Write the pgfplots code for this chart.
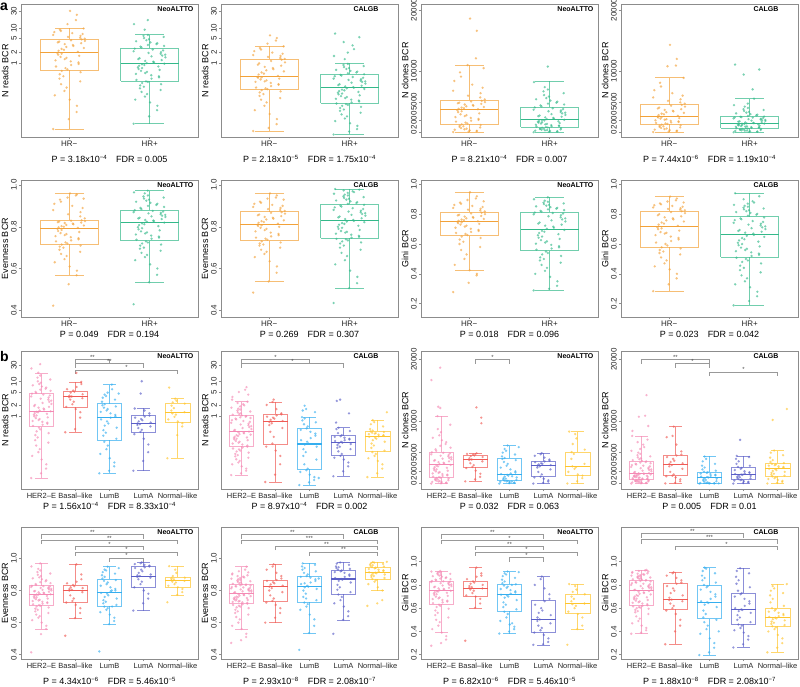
\documentclass[border=0pt]{standalone}
\usepackage{fontspec}
\setmainfont{Liberation Sans}
\usepackage{pgfplots}
\pgfplotsset{compat=1.18}
\definecolor{frm}{HTML}{8C8C8C}
\definecolor{hrn}{HTML}{F2A23A}
\definecolor{hrp}{HTML}{34B98A}
\definecolor{her}{HTML}{F48AB4}
\definecolor{bas}{HTML}{EF5B55}
\definecolor{lmb}{HTML}{35AEEF}
\definecolor{lma}{HTML}{5B5FC7}
\definecolor{nrm}{HTML}{FFC52E}
\newcommand{\sci}[2]{#1x10\textsuperscript{−#2}}
% box: pos, lower whisker, lower quartile, median, upper quartile, upper whisker, colour
\newcommand{\bx}[7]{%
  \pgfmathsetmacro\bL{#1-0.36}\pgfmathsetmacro\bR{#1+0.36}%
  \pgfmathsetmacro\cL{#1-0.18}\pgfmathsetmacro\cR{#1+0.18}%
  \addplot[#7, line width=0.6pt, draw opacity=0.7] coordinates {(\bL,#3) (\bR,#3) (\bR,#5) (\bL,#5) (\bL,#3)};
  \addplot[#7, line width=0.6pt, draw opacity=0.7] coordinates {(#1,#5) (#1,#6)};
  \addplot[#7, line width=0.6pt, draw opacity=0.7] coordinates {(#1,#3) (#1,#2)};
  \addplot[#7, line width=0.6pt, draw opacity=0.7] coordinates {(\cL,#6) (\cR,#6)};
  \addplot[#7, line width=0.6pt, draw opacity=0.7] coordinates {(\cL,#2) (\cR,#2)};
  \addplot[#7, line width=1.1pt] coordinates {(\bL,#4) (\bR,#4)};
}
% jittered points: pos, half width, colour, values
\newcommand{\pts}[4]{\addplot[only marks, mark=*, mark size=1.3pt, color=#3, mark options={draw opacity=0, fill opacity=0.65}] table[header=false, row sep=\\, x expr={#1+#2*(2*mod(\coordindex*\coordindex*0.381966+\coordindex*0.1,1)-1)}, y index=0] {#4\\};}
% bracket: a, b, mid, y, y low, label
\newcommand{\brk}[6]{%
  \addplot[black!40, line width=0.5pt] coordinates {(#1,#5) (#1,#4) (#2,#4) (#2,#5)};
  \node[font=\fontsize{6}{6}\selectfont, anchor=base, inner sep=0.5pt, text=black!70] at (axis cs:#3,#4) {#6};}
\tikzset{ptag/.style={anchor=west, font=\bfseries\fontsize{7}{8}\selectfont, inner sep=0pt, yshift=-5.5pt}}
\pgfplotsset{
  myBase/.style={scale only axis, width=177pt, anchor=north west, clip=false,
    axis line style={frm, line width=0.7pt},
    tick style={frm, line width=0.5pt}, tick align=outside, major tick length=2pt, tick pos=left,
    ticklabel style={font=\fontsize{8}{9}\selectfont, text=black!85},
    xticklabel style={anchor=north, inner sep=2pt},
    yticklabel style={rotate=90, anchor=south, inner sep=2pt},
    scaled y ticks=false,
    /pgf/number format/assume math mode=true,
    every axis y label/.style={at={(axis description cs:-0.09,0.5)}, rotate=90, anchor=center, font=\fontsize{9}{10}\selectfont},
    every axis x label/.style={at={(axis description cs:0.5,0)}, anchor=center, font=\fontsize{9}{10}\selectfont},
  },
  myTwo/.style={myBase, xmin=0.4, xmax=2.6, xtick={1,2}, xticklabels={HR−,HR+}},
  myFive/.style={myBase, xmin=0.4, xmax=5.6, xtick={1,2,3,4,5}, xticklabels={HER2–E,Basal–like,LumB,LumA,Normal–like},
    xticklabel style={font=\fontsize{7.5}{9}\selectfont}},
  myReads/.style={ytick={1,2,5,10,30}, yticklabels={1,2,5,10,30}, ylabel={N reads BCR}},
  myClones/.style={ytick={0,2000,5000,10000,20000}, yticklabels={0,2000,5000,10000,20000}, ylabel={N clones BCR}},
  myEven/.style={ytick={0.4,0.6,0.8,1.0}, yticklabels={0.4,0.6,0.8,1.0}, ylabel={Evenness BCR}},
  myGini/.style={ytick={0.2,0.4,0.6,0.8,1.0}, yticklabels={0.2,0.4,0.6,0.8,1.0}, ylabel={Gini BCR}},
}
\begin{document}
\begin{tikzpicture}
\useasboundingbox (0pt,0pt) rectangle (800pt,686pt);
\node[anchor=base west, inner sep=0pt, font=\bfseries\fontsize{14}{14}\selectfont] at (0pt,675pt) {a};
\node[anchor=base west, inner sep=0pt, font=\bfseries\fontsize{14}{14}\selectfont] at (0pt,324pt) {b};

% ================= ROW 1 =================
\begin{axis}[ymode=log, myTwo, myReads, at={(21pt,682pt)}, height=133pt, ymin=0.0077, ymax=49,
  xlabel={P = \sci{3.18}{4}\quad FDR = 0.005}, xlabel style={yshift=-22pt}]
\bx{1}{0.013}{0.63}{2.02}{4.85}{10}{hrn}
\bx{2}{0.0185}{0.31}{0.98}{2.7}{6.45}{hrp}
\pts{1}{0.2}{hrn}{0.013\\0.025\\0.04\\0.06\\0.09\\0.12\\0.16\\0.2\\0.25\\0.3\\0.36\\0.42\\0.48\\0.55\\0.6\\0.66\\0.72\\0.8\\0.88\\0.95\\1.05\\1.12\\1.2\\1.3\\1.4\\1.5\\1.62\\1.75\\1.85\\1.95\\2.1\\2.25\\2.4\\2.55\\2.7\\2.9\\3.1\\3.3\\3.5\\3.7\\3.9\\4.1\\4.3\\4.5\\4.75\\5\\5.3\\5.6\\6\\6.4\\6.8\\7.2\\7.7\\8.3\\9\\9.8\\13\\17\\24\\31}
\pts{2}{0.2}{hrp}{0.0185\\0.03\\0.045\\0.06\\0.075\\0.09\\0.11\\0.13\\0.15\\0.17\\0.19\\0.21\\0.23\\0.25\\0.27\\0.29\\0.3\\0.33\\0.36\\0.39\\0.42\\0.45\\0.49\\0.52\\0.56\\0.6\\0.64\\0.68\\0.72\\0.76\\0.8\\0.84\\0.88\\0.92\\0.96\\1\\1.05\\1.1\\1.15\\1.22\\1.3\\1.38\\1.46\\1.55\\1.64\\1.74\\1.84\\1.95\\2.06\\2.18\\2.3\\2.45\\2.6\\2.8\\2.95\\3.1\\3.3\\3.5\\3.7\\3.9\\4.2\\4.5\\4.8\\5.2\\5.6\\6\\6.4\\9\\13\\17}
\node[ptag] at (rel axis cs:0.77,1) {NeoALTTO};
\end{axis}

\begin{axis}[ymode=log, myTwo, myReads, at={(221pt,682pt)}, height=133pt, ymin=0.0077, ymax=49,
  xlabel={P = \sci{2.18}{5}\quad FDR = \sci{1.75}{4}}, xlabel style={yshift=-22pt}]
\bx{1}{0.0114}{0.174}{0.41}{1.28}{3.1}{hrn}
\bx{2}{0.0091}{0.072}{0.2}{0.49}{1}{hrp}
\pts{1}{0.2}{hrn}{0.0114\\0.014\\0.018\\0.025\\0.035\\0.045\\0.06\\0.075\\0.09\\0.1\\0.115\\0.13\\0.145\\0.155\\0.168\\0.18\\0.19\\0.2\\0.22\\0.24\\0.25\\0.27\\0.29\\0.3\\0.32\\0.34\\0.36\\0.38\\0.39\\0.4\\0.43\\0.47\\0.5\\0.54\\0.58\\0.62\\0.67\\0.72\\0.78\\0.84\\0.9\\0.98\\1.05\\1.15\\1.25\\1.32\\1.4\\1.5\\1.6\\1.7\\1.85\\2\\2.2\\2.45\\2.7\\3\\3.6\\4.4\\5.2\\6.2}
\pts{2}{0.2}{hrp}{0.0091\\0.011\\0.013\\0.016\\0.019\\0.022\\0.026\\0.03\\0.034\\0.038\\0.043\\0.047\\0.052\\0.056\\0.06\\0.064\\0.067\\0.07\\0.075\\0.08\\0.085\\0.09\\0.095\\0.1\\0.107\\0.114\\0.12\\0.128\\0.135\\0.142\\0.15\\0.158\\0.166\\0.174\\0.182\\0.19\\0.197\\0.205\\0.215\\0.225\\0.235\\0.25\\0.26\\0.275\\0.29\\0.3\\0.315\\0.33\\0.345\\0.36\\0.38\\0.4\\0.42\\0.44\\0.46\\0.48\\0.51\\0.54\\0.57\\0.6\\0.64\\0.68\\0.72\\0.77\\0.82\\0.88\\0.95\\1.3\\1.6\\2\\2.5\\3.2\\4\\5.5\\7}
\node[ptag] at (rel axis cs:0.748,1) {CALGB};
\end{axis}

\begin{axis}[myTwo, myClones, at={(421pt,682pt)}, height=133pt, ymin=-760, ymax=20980,
  xlabel={P = \sci{8.21}{4}\quad FDR = 0.007}, xlabel style={yshift=-22pt}]
\bx{1}{0}{1360}{3700}{5220}{11030}{hrn}
\bx{2}{0}{870}{2065}{4130}{8315}{hrp}
\pts{1}{0.2}{hrn}{40\\110\\180\\260\\330\\420\\500\\600\\700\\800\\900\\1000\\1100\\1200\\1300\\1450\\1600\\1750\\1900\\2050\\2200\\2350\\2500\\2650\\2800\\2950\\3100\\3300\\3450\\3620\\3780\\3860\\3950\\4050\\4150\\4250\\4350\\4450\\4550\\4650\\4750\\4850\\4950\\5050\\5150\\5400\\5700\\6000\\6400\\6800\\7300\\7800\\8400\\9100\\9800\\10500\\11000\\12100\\16600\\18600}
\pts{2}{0.2}{hrp}{30\\80\\130\\180\\230\\280\\330\\380\\430\\480\\530\\580\\630\\690\\750\\800\\850\\920\\980\\1040\\1100\\1170\\1240\\1310\\1380\\1450\\1520\\1590\\1660\\1730\\1800\\1870\\1940\\2000\\2050\\2150\\2250\\2350\\2450\\2550\\2650\\2750\\2850\\2970\\3090\\3210\\3330\\3450\\3570\\3690\\3810\\3940\\4070\\4250\\4400\\4550\\4700\\4850\\5000\\5200\\5400\\5600\\5850\\6100\\6400\\6700\\7000\\7400\\8200\\10760}
\node[ptag] at (rel axis cs:0.77,1) {NeoALTTO};
\end{axis}

\begin{axis}[myTwo, myClones, at={(621pt,682pt)}, height=133pt, ymin=-760, ymax=20980,
  xlabel={P = \sci{7.44}{6}\quad FDR = \sci{1.19}{4}}, xlabel style={yshift=-22pt}]
\bx{1}{0}{1300}{2595}{4540}{8920}{hrn}
\bx{2}{0}{700}{1510}{2595}{5510}{hrp}
\pts{1}{0.2}{hrn}{40\\120\\200\\280\\360\\450\\540\\630\\720\\810\\900\\990\\1080\\1170\\1260\\1380\\1460\\1540\\1620\\1700\\1790\\1880\\1970\\2060\\2150\\2240\\2330\\2420\\2500\\2570\\2700\\2820\\2940\\3060\\3180\\3300\\3420\\3540\\3660\\3780\\3900\\4050\\4200\\4350\\4500\\4700\\4900\\5150\\5400\\5700\\6000\\6400\\6900\\7500\\8100\\8900\\10800\\10920\\12000\\14300}
\pts{2}{0.2}{hrp}{20\\60\\100\\140\\180\\220\\260\\300\\340\\380\\420\\460\\500\\540\\580\\620\\650\\680\\740\\780\\820\\860\\900\\940\\980\\1030\\1080\\1130\\1180\\1230\\1280\\1330\\1370\\1410\\1440\\1470\\1500\\1560\\1620\\1680\\1740\\1800\\1860\\1920\\1980\\2040\\2100\\2160\\2220\\2280\\2340\\2400\\2450\\2500\\2540\\2580\\2680\\2780\\2880\\2990\\3100\\3220\\3350\\3500\\3650\\3800\\4000\\4200\\4450\\4700\\5500\\7030\\9450\\10270\\11080}
\node[ptag] at (rel axis cs:0.748,1) {CALGB};
\end{axis}

% ================= ROW 2 =================
\begin{axis}[myTwo, myEven, at={(21pt,506pt)}, height=137pt, ymin=0.368, ymax=1.024,
  xlabel={P = 0.049\quad FDR = 0.194}, xlabel style={yshift=-17pt}]
\bx{1}{0.568}{0.717}{0.792}{0.832}{0.96}{hrn}
\bx{2}{0.534}{0.734}{0.821}{0.88}{0.973}{hrp}
\pts{1}{0.2}{hrn}{0.422\\0.525\\0.568\\0.59\\0.61\\0.63\\0.645\\0.66\\0.67\\0.68\\0.69\\0.7\\0.705\\0.71\\0.715\\0.72\\0.725\\0.73\\0.735\\0.74\\0.745\\0.75\\0.755\\0.76\\0.765\\0.77\\0.775\\0.78\\0.785\\0.79\\0.795\\0.798\\0.8\\0.803\\0.806\\0.809\\0.812\\0.815\\0.818\\0.82\\0.822\\0.825\\0.827\\0.829\\0.831\\0.84\\0.85\\0.86\\0.87\\0.88\\0.89\\0.9\\0.91\\0.92\\0.93\\0.935\\0.94\\0.95\\0.955\\0.96}
\pts{2}{0.2}{hrp}{0.429\\0.534\\0.57\\0.6\\0.62\\0.64\\0.655\\0.665\\0.675\\0.685\\0.695\\0.7\\0.71\\0.715\\0.72\\0.725\\0.73\\0.738\\0.743\\0.748\\0.753\\0.758\\0.763\\0.768\\0.773\\0.778\\0.783\\0.788\\0.793\\0.798\\0.803\\0.808\\0.812\\0.816\\0.82\\0.824\\0.827\\0.83\\0.833\\0.837\\0.84\\0.843\\0.847\\0.85\\0.853\\0.857\\0.86\\0.864\\0.867\\0.87\\0.873\\0.876\\0.879\\0.885\\0.89\\0.895\\0.9\\0.905\\0.91\\0.915\\0.92\\0.925\\0.93\\0.935\\0.94\\0.945\\0.95\\0.96\\0.965\\0.973}
\node[ptag] at (rel axis cs:0.77,1) {NeoALTTO};
\end{axis}

\begin{axis}[myTwo, myEven, at={(221pt,506pt)}, height=137pt, ymin=0.368, ymax=1.024,
  xlabel={P = 0.269\quad FDR = 0.307}, xlabel style={yshift=-17pt}]
\bx{1}{0.538}{0.733}{0.811}{0.872}{0.96}{hrn}
\bx{2}{0.506}{0.744}{0.829}{0.907}{0.981}{hrp}
\pts{1}{0.2}{hrn}{0.485\\0.538\\0.58\\0.61\\0.635\\0.655\\0.67\\0.68\\0.69\\0.7\\0.71\\0.715\\0.72\\0.725\\0.73\\0.738\\0.743\\0.748\\0.754\\0.76\\0.766\\0.772\\0.778\\0.784\\0.79\\0.795\\0.8\\0.804\\0.807\\0.81\\0.815\\0.819\\0.823\\0.827\\0.831\\0.835\\0.839\\0.843\\0.847\\0.851\\0.855\\0.859\\0.863\\0.867\\0.87\\0.876\\0.88\\0.885\\0.89\\0.895\\0.9\\0.905\\0.91\\0.915\\0.92\\0.93\\0.935\\0.94\\0.95\\0.96}
\pts{2}{0.2}{hrp}{0.435\\0.506\\0.53\\0.56\\0.59\\0.62\\0.64\\0.66\\0.675\\0.69\\0.7\\0.71\\0.72\\0.725\\0.73\\0.735\\0.74\\0.742\\0.748\\0.752\\0.757\\0.762\\0.767\\0.772\\0.776\\0.78\\0.785\\0.79\\0.795\\0.8\\0.805\\0.81\\0.814\\0.818\\0.822\\0.825\\0.828\\0.833\\0.837\\0.841\\0.845\\0.849\\0.853\\0.857\\0.861\\0.865\\0.869\\0.873\\0.877\\0.881\\0.885\\0.889\\0.893\\0.897\\0.901\\0.905\\0.91\\0.914\\0.918\\0.922\\0.926\\0.93\\0.934\\0.938\\0.942\\0.946\\0.95\\0.954\\0.958\\0.962\\0.966\\0.97\\0.974\\0.978\\0.981}
\node[ptag] at (rel axis cs:0.748,1) {CALGB};
\end{axis}

\begin{axis}[myTwo, myGini, at={(421pt,506pt)}, height=137pt, ymin=0.111, ymax=1.029,
  xlabel={P = 0.018\quad FDR = 0.096}, xlabel style={yshift=-17pt}]
\bx{1}{0.424}{0.656}{0.749}{0.813}{0.947}{hrn}
\bx{2}{0.289}{0.556}{0.696}{0.813}{0.913}{hrp}
\pts{1}{0.2}{hrn}{0.278\\0.34\\0.39\\0.4\\0.424\\0.46\\0.5\\0.53\\0.56\\0.58\\0.6\\0.615\\0.63\\0.64\\0.65\\0.66\\0.667\\0.674\\0.681\\0.688\\0.695\\0.702\\0.709\\0.716\\0.723\\0.73\\0.735\\0.74\\0.744\\0.748\\0.752\\0.756\\0.76\\0.764\\0.768\\0.772\\0.776\\0.78\\0.784\\0.788\\0.792\\0.796\\0.8\\0.805\\0.81\\0.818\\0.824\\0.83\\0.836\\0.842\\0.848\\0.855\\0.862\\0.87\\0.878\\0.886\\0.895\\0.905\\0.92\\0.947}
\pts{2}{0.2}{hrp}{0.289\\0.3\\0.32\\0.35\\0.38\\0.4\\0.42\\0.44\\0.46\\0.475\\0.49\\0.5\\0.51\\0.52\\0.53\\0.54\\0.55\\0.562\\0.57\\0.578\\0.586\\0.594\\0.602\\0.61\\0.618\\0.626\\0.634\\0.642\\0.65\\0.658\\0.666\\0.674\\0.682\\0.688\\0.694\\0.702\\0.709\\0.716\\0.723\\0.73\\0.737\\0.744\\0.751\\0.758\\0.765\\0.772\\0.779\\0.786\\0.793\\0.799\\0.804\\0.808\\0.811\\0.817\\0.822\\0.827\\0.832\\0.837\\0.842\\0.847\\0.852\\0.857\\0.862\\0.867\\0.872\\0.877\\0.883\\0.89\\0.9\\0.913}
\node[ptag] at (rel axis cs:0.77,1) {NeoALTTO};
\end{axis}

\begin{axis}[myTwo, myGini, at={(621pt,506pt)}, height=137pt, ymin=0.111, ymax=1.029,
  xlabel={P = 0.023\quad FDR = 0.042}, xlabel style={yshift=-17pt}]
\bx{1}{0.284}{0.58}{0.716}{0.822}{0.918}{hrn}
\bx{2}{0.189}{0.513}{0.664}{0.784}{0.94}{hrp}
\pts{1}{0.2}{hrn}{0.284\\0.33\\0.37\\0.4\\0.43\\0.45\\0.47\\0.49\\0.51\\0.53\\0.54\\0.55\\0.56\\0.57\\0.578\\0.59\\0.6\\0.61\\0.62\\0.63\\0.64\\0.65\\0.66\\0.67\\0.675\\0.68\\0.69\\0.7\\0.705\\0.712\\0.722\\0.73\\0.737\\0.744\\0.751\\0.758\\0.765\\0.772\\0.779\\0.786\\0.793\\0.8\\0.807\\0.814\\0.82\\0.826\\0.83\\0.835\\0.84\\0.845\\0.85\\0.855\\0.86\\0.866\\0.872\\0.878\\0.885\\0.893\\0.905\\0.918}
\pts{2}{0.2}{hrp}{0.189\\0.218\\0.25\\0.28\\0.31\\0.33\\0.35\\0.37\\0.39\\0.41\\0.425\\0.44\\0.455\\0.47\\0.48\\0.49\\0.5\\0.508\\0.52\\0.528\\0.536\\0.544\\0.552\\0.56\\0.568\\0.576\\0.584\\0.592\\0.6\\0.608\\0.616\\0.624\\0.632\\0.64\\0.648\\0.655\\0.661\\0.67\\0.676\\0.682\\0.688\\0.694\\0.7\\0.706\\0.712\\0.718\\0.724\\0.73\\0.736\\0.742\\0.748\\0.754\\0.76\\0.766\\0.772\\0.778\\0.79\\0.796\\0.802\\0.808\\0.814\\0.82\\0.826\\0.832\\0.838\\0.844\\0.85\\0.856\\0.862\\0.87\\0.878\\0.887\\0.9\\0.92\\0.94}
\node[ptag] at (rel axis cs:0.748,1) {CALGB};
\end{axis}

% ================= ROW 3 =================
\begin{axis}[ymode=log, myFive, myReads, at={(21pt,335pt)}, height=138pt, ymin=0.0077, ymax=77,
  xlabel={P = \sci{1.56}{4}\quad FDR = \sci{8.33}{4}}, xlabel style={yshift=-17pt}]
\bx{1}{0.016}{0.49}{1.39}{4.5}{17}{her}
\bx{2}{0.34}{1.78}{3.6}{5.4}{9.8}{bas}
\bx{3}{0.022}{0.2}{0.92}{2.3}{8.2}{lmb}
\bx{4}{0.026}{0.345}{0.61}{1.02}{1.66}{lma}
\bx{5}{0.06}{0.66}{1.25}{2.4}{3.2}{nrm}
\pts{1}{0.3}{her}{0.016\\0.022\\0.03\\0.04\\0.055\\0.07\\0.09\\0.11\\0.14\\0.17\\0.2\\0.24\\0.28\\0.32\\0.36\\0.41\\0.46\\0.52\\0.56\\0.6\\0.64\\0.68\\0.72\\0.77\\0.82\\0.87\\0.92\\0.98\\1.04\\1.1\\1.16\\1.22\\1.28\\1.33\\1.37\\1.45\\1.55\\1.65\\1.75\\1.85\\1.95\\2.1\\2.25\\2.4\\2.6\\2.8\\3\\3.2\\3.45\\3.7\\3.95\\4.2\\4.45\\4.7\\5\\5.4\\5.8\\6.2\\6.7\\7.2\\7.8\\8.5\\9.3\\10.2\\11.5\\13\\15\\18\\24\\32}
\pts{2}{0.3}{bas}{0.34\\0.42\\0.9\\1.3\\1.6\\1.85\\2.2\\2.6\\3\\3.3\\3.5\\3.7\\3.9\\4.3\\4.8\\5.1\\5.5\\6\\7\\8.5\\9.8\\17.8}
\pts{3}{0.3}{lmb}{0.022\\0.026\\0.035\\0.045\\0.06\\0.08\\0.11\\0.14\\0.18\\0.22\\0.27\\0.33\\0.39\\0.46\\0.53\\0.61\\0.7\\0.8\\0.9\\0.98\\1.08\\1.2\\1.32\\1.45\\1.6\\1.75\\1.9\\2.05\\2.2\\2.6\\3\\3.4\\3.8\\4.2\\4.5\\4.8\\6\\8.2}
\pts{4}{0.3}{lma}{0.026\\0.05\\0.09\\0.15\\0.22\\0.3\\0.35\\0.4\\0.45\\0.5\\0.55\\0.58\\0.61\\0.65\\0.7\\0.76\\0.82\\0.9\\0.97\\1.03\\1.2\\1.45\\1.66\\4.5\\10.2}
\pts{5}{0.3}{nrm}{0.06\\0.28\\0.5\\0.62\\0.7\\0.8\\0.95\\1.1\\1.2\\1.3\\1.45\\1.7\\2\\2.3\\2.5\\2.8\\3.2\\6.7}
\brk{2}{3}{2.5}{43}{33}{**}
\brk{2}{4}{3}{33}{25.4}{**}
\brk{2}{5}{3.5}{22}{17}{*}
\node[ptag] at (rel axis cs:0.77,1) {NeoALTTO};
\end{axis}

\begin{axis}[ymode=log, myFive, myReads, at={(221pt,335pt)}, height=138pt, ymin=0.0077, ymax=77,
  xlabel={P = \sci{8.97}{4}\quad FDR = 0.002}, xlabel style={yshift=-17pt}]
\bx{1}{0.0195}{0.135}{0.36}{1.05}{2.6}{her}
\bx{2}{0.0123}{0.148}{0.68}{1.15}{2.57}{bas}
\bx{3}{0.01}{0.0295}{0.155}{0.44}{0.93}{lmb}
\bx{4}{0.018}{0.072}{0.17}{0.27}{0.46}{lma}
\bx{5}{0.017}{0.098}{0.25}{0.36}{0.76}{nrm}
\pts{1}{0.3}{her}{0.0195\\0.022\\0.026\\0.03\\0.035\\0.04\\0.045\\0.05\\0.056\\0.062\\0.068\\0.074\\0.08\\0.087\\0.094\\0.1\\0.108\\0.115\\0.122\\0.13\\0.14\\0.15\\0.16\\0.17\\0.18\\0.19\\0.2\\0.21\\0.22\\0.23\\0.24\\0.25\\0.265\\0.28\\0.29\\0.3\\0.315\\0.33\\0.34\\0.355\\0.38\\0.4\\0.42\\0.45\\0.48\\0.51\\0.54\\0.57\\0.6\\0.64\\0.68\\0.72\\0.76\\0.8\\0.84\\0.88\\0.92\\0.96\\1\\1.04\\1.1\\1.15\\1.2\\1.28\\1.36\\1.45\\1.55\\1.65\\1.75\\1.9\\2.05\\2.2\\2.4\\2.6\\3\\3.6\\4.2\\5\\5.8\\6.9}
\pts{2}{0.3}{bas}{0.0123\\0.02\\0.04\\0.07\\0.1\\0.13\\0.16\\0.25\\0.35\\0.45\\0.55\\0.62\\0.68\\0.72\\0.78\\0.84\\0.9\\0.96\\1.05\\1.12\\1.2\\1.6\\2.1\\2.57\\3}
\pts{3}{0.3}{lmb}{0.01\\0.012\\0.014\\0.017\\0.02\\0.024\\0.027\\0.03\\0.04\\0.055\\0.07\\0.09\\0.11\\0.13\\0.15\\0.16\\0.18\\0.2\\0.23\\0.27\\0.31\\0.35\\0.4\\0.44\\0.5\\0.58\\0.66\\0.75\\0.85\\0.93\\1.3\\1.45\\1.6\\2\\0.016}
\pts{4}{0.3}{lma}{0.018\\0.025\\0.035\\0.045\\0.055\\0.062\\0.07\\0.08\\0.095\\0.11\\0.12\\0.13\\0.145\\0.155\\0.165\\0.17\\0.18\\0.19\\0.2\\0.21\\0.22\\0.235\\0.25\\0.26\\0.28\\0.32\\0.37\\0.42\\0.46\\0.65\\1.2\\2.75\\3}
\pts{5}{0.3}{nrm}{0.017\\0.022\\0.03\\0.04\\0.05\\0.06\\0.07\\0.08\\0.09\\0.1\\0.12\\0.14\\0.16\\0.18\\0.2\\0.22\\0.235\\0.25\\0.26\\0.27\\0.28\\0.29\\0.3\\0.31\\0.32\\0.33\\0.345\\0.36\\0.38\\0.42\\0.5\\0.58\\0.67\\0.76\\1.29}
\brk{1}{3}{2}{43}{33}{*}
\brk{1}{4}{2.5}{33}{25.4}{*}
\node[ptag] at (rel axis cs:0.748,1) {CALGB};
\end{axis}

\begin{axis}[myFive, myClones, at={(421pt,335pt)}, height=138pt, ymin=-855, ymax=21390,
  xlabel={P = 0.032\quad FDR = 0.063}, xlabel style={yshift=-17pt}]
\bx{1}{0}{1070}{3050}{5080}{10900}{her}
\bx{2}{375}{2620}{3850}{4650}{4900}{bas}
\bx{3}{0}{480}{1550}{4120}{6150}{lmb}
\bx{4}{0}{1120}{2890}{3585}{4920}{lma}
\bx{5}{0}{1390}{2730}{5140}{8400}{nrm}
\pts{1}{0.3}{her}{20\\70\\120\\180\\240\\300\\360\\430\\500\\570\\640\\710\\780\\850\\920\\990\\1050\\1150\\1250\\1350\\1450\\1550\\1650\\1760\\1870\\1980\\2090\\2200\\2320\\2440\\2560\\2680\\2800\\2920\\3030\\3150\\3260\\3370\\3480\\3590\\3700\\3810\\3920\\4030\\4140\\4260\\4380\\4500\\4620\\4740\\4860\\4980\\5060\\5300\\5550\\5800\\6100\\6400\\6700\\7000\\7400\\7800\\8300\\8800\\9500\\10900\\12200\\12400\\16700\\18700}
\pts{2}{0.3}{bas}{375\\700\\1100\\1600\\2100\\2500\\2700\\3000\\3300\\3600\\3800\\3900\\4100\\4300\\4450\\4550\\4700\\4800\\4900\\9740\\10650\\12300}
\pts{3}{0.3}{lmb}{20\\80\\140\\200\\260\\320\\380\\440\\500\\600\\700\\800\\900\\1000\\1150\\1300\\1450\\1550\\1650\\1800\\2000\\2300\\2600\\2900\\3200\\3500\\3800\\4000\\4150\\4400\\4700\\5000\\5300\\5600\\5900\\6150\\1200\\350}
\pts{4}{0.3}{lma}{20\\150\\350\\550\\800\\1000\\1150\\1500\\1900\\2300\\2600\\2800\\2890\\3000\\3100\\3200\\3300\\3450\\3580\\3700\\3900\\4200\\4500\\4750\\4920}
\pts{5}{0.3}{nrm}{30\\400\\900\\1300\\1500\\1900\\2400\\2650\\2800\\3200\\4000\\4800\\5100\\5500\\6400\\7300\\8000\\8400}
\brk{2}{3}{2.5}{20000}{19360}{*}
\node[ptag] at (rel axis cs:0.77,1) {NeoALTTO};
\end{axis}

\begin{axis}[myFive, myClones, at={(621pt,335pt)}, height=138pt, ymin=-855, ymax=21390,
  xlabel={P = 0.005\quad FDR = 0.01}, xlabel style={yshift=-17pt}]
\bx{1}{0}{750}{1710}{3690}{7700}{her}
\bx{2}{0}{1280}{3160}{4600}{9200}{bas}
\bx{3}{0}{107}{1070}{1870}{4390}{lmb}
\bx{4}{0}{640}{1450}{2620}{4490}{lma}
\bx{5}{0}{1180}{2410}{3320}{5350}{nrm}
\pts{1}{0.3}{her}{20\\60\\100\\140\\180\\220\\260\\300\\340\\380\\420\\460\\500\\540\\580\\620\\660\\690\\720\\745\\790\\840\\890\\940\\990\\1040\\1090\\1140\\1190\\1240\\1290\\1340\\1390\\1440\\1490\\1540\\1590\\1630\\1670\\1700\\1800\\1900\\2000\\2100\\2200\\2300\\2400\\2500\\2600\\2700\\2800\\2900\\3000\\3100\\3200\\3300\\3400\\3500\\3600\\3680\\3800\\3950\\4100\\4250\\4400\\4600\\4800\\5000\\5300\\5600\\5900\\6300\\6700\\7100\\7700\\8500\\9300\\10800\\10950\\14280}
\pts{2}{0.3}{bas}{40\\150\\400\\700\\1000\\1200\\1300\\1500\\1900\\2400\\2800\\3000\\3160\\3300\\3500\\3700\\4000\\4300\\4550\\4700\\5200\\6300\\7500\\7700\\9200}
\pts{3}{0.3}{lmb}{10\\30\\50\\70\\90\\110\\140\\200\\300\\400\\500\\600\\700\\800\\900\\1000\\1070\\1150\\1250\\1350\\1450\\1550\\1650\\1750\\1850\\1950\\2100\\2300\\2600\\2900\\3200\\3600\\4000\\4390\\60}
\pts{4}{0.3}{lma}{20\\100\\200\\300\\400\\500\\580\\650\\750\\850\\950\\1050\\1150\\1250\\1350\\1420\\1480\\1560\\1650\\1750\\1850\\2000\\2200\\2400\\2550\\2700\\2900\\3200\\3600\\4000\\4300\\4490\\7060}
\pts{5}{0.3}{nrm}{30\\150\\300\\450\\600\\750\\900\\1050\\1180\\1300\\1450\\1600\\1750\\1900\\2050\\2200\\2350\\2410\\2500\\2600\\2700\\2800\\2900\\3000\\3100\\3200\\3320\\3500\\3800\\4200\\4600\\5000\\5350\\10270\\12040}
\brk{1}{3}{2}{20000}{19360}{**}
\brk{2}{3}{2.5}{19360}{18720}{*}
\brk{3}{5}{4}{18030}{17390}{*}
\node[ptag] at (rel axis cs:0.748,1) {CALGB};
\end{axis}

% ================= ROW 4 =================
\begin{axis}[myFive, myEven, at={(21pt,159pt)}, height=132pt, ymin=0.373, ymax=1.196,
  xlabel={P = \sci{4.34}{6}\quad FDR = \sci{5.46}{5}}, xlabel style={yshift=-22pt}]
\bx{1}{0.56}{0.71}{0.777}{0.83}{0.969}{her}
\bx{2}{0.628}{0.727}{0.8}{0.832}{0.963}{bas}
\bx{3}{0.59}{0.704}{0.789}{0.87}{0.948}{lmb}
\bx{4}{0.675}{0.818}{0.89}{0.948}{0.975}{lma}
\bx{5}{0.773}{0.82}{0.86}{0.882}{0.952}{nrm}
\pts{1}{0.3}{her}{0.415\\0.528\\0.56\\0.58\\0.6\\0.615\\0.63\\0.64\\0.65\\0.66\\0.67\\0.68\\0.687\\0.694\\0.7\\0.705\\0.709\\0.714\\0.718\\0.722\\0.726\\0.73\\0.734\\0.738\\0.742\\0.746\\0.75\\0.754\\0.758\\0.762\\0.766\\0.77\\0.773\\0.775\\0.776\\0.78\\0.783\\0.786\\0.789\\0.792\\0.795\\0.798\\0.801\\0.804\\0.807\\0.81\\0.813\\0.816\\0.819\\0.822\\0.825\\0.827\\0.829\\0.835\\0.84\\0.846\\0.852\\0.858\\0.864\\0.87\\0.876\\0.882\\0.89\\0.898\\0.906\\0.915\\0.925\\0.935\\0.95\\0.969}
\pts{2}{0.3}{bas}{0.518\\0.628\\0.66\\0.69\\0.71\\0.725\\0.735\\0.75\\0.77\\0.79\\0.8\\0.805\\0.81\\0.815\\0.82\\0.828\\0.835\\0.845\\0.855\\0.87\\0.9\\0.963}
\pts{3}{0.3}{lmb}{0.42\\0.59\\0.61\\0.63\\0.65\\0.665\\0.68\\0.69\\0.7\\0.71\\0.72\\0.73\\0.74\\0.75\\0.76\\0.77\\0.78\\0.785\\0.795\\0.8\\0.81\\0.82\\0.83\\0.84\\0.85\\0.86\\0.865\\0.875\\0.885\\0.895\\0.905\\0.915\\0.925\\0.93\\0.94\\0.948\\0.7\\0.8}
\pts{4}{0.3}{lma}{0.675\\0.72\\0.75\\0.78\\0.8\\0.82\\0.84\\0.855\\0.87\\0.88\\0.885\\0.89\\0.895\\0.9\\0.91\\0.92\\0.93\\0.94\\0.945\\0.95\\0.955\\0.96\\0.965\\0.97\\0.975}
\pts{5}{0.3}{nrm}{0.727\\0.773\\0.79\\0.81\\0.82\\0.83\\0.84\\0.85\\0.855\\0.86\\0.865\\0.87\\0.875\\0.88\\0.89\\0.91\\0.93\\0.952}
\brk{1}{4}{2.5}{1.149}{1.124}{**}
\brk{1}{5}{3}{1.114}{1.089}{**}
\brk{2}{4}{3}{1.077}{1.052}{*}
\brk{2}{5}{3.5}{1.041}{1.016}{*}
\brk{3}{4}{3.5}{1.004}{0.979}{*}
\node[ptag] at (rel axis cs:0.77,1) {NeoALTTO};
\end{axis}

\begin{axis}[myFive, myEven, at={(221pt,159pt)}, height=132pt, ymin=0.373, ymax=1.196,
  xlabel={P = \sci{2.93}{8}\quad FDR = \sci{2.08}{7}}, xlabel style={yshift=-22pt}]
\bx{1}{0.56}{0.72}{0.783}{0.839}{0.948}{her}
\bx{2}{0.6}{0.731}{0.824}{0.866}{0.963}{bas}
\bx{3}{0.535}{0.727}{0.824}{0.886}{0.969}{lmb}
\bx{4}{0.617}{0.777}{0.872}{0.928}{0.975}{lma}
\bx{5}{0.8}{0.872}{0.911}{0.942}{0.979}{nrm}
\pts{1}{0.3}{her}{0.473\\0.49\\0.51\\0.53\\0.56\\0.58\\0.6\\0.62\\0.635\\0.65\\0.66\\0.67\\0.68\\0.69\\0.695\\0.7\\0.705\\0.71\\0.714\\0.718\\0.723\\0.726\\0.729\\0.732\\0.735\\0.738\\0.741\\0.744\\0.747\\0.75\\0.753\\0.756\\0.759\\0.762\\0.765\\0.768\\0.771\\0.774\\0.777\\0.781\\0.786\\0.789\\0.792\\0.795\\0.798\\0.801\\0.804\\0.807\\0.81\\0.813\\0.816\\0.819\\0.822\\0.825\\0.828\\0.831\\0.833\\0.835\\0.837\\0.838\\0.842\\0.846\\0.85\\0.854\\0.858\\0.862\\0.866\\0.87\\0.874\\0.878\\0.882\\0.886\\0.89\\0.895\\0.9\\0.906\\0.913\\0.92\\0.93\\0.948}
\pts{2}{0.3}{bas}{0.6\\0.63\\0.66\\0.69\\0.71\\0.725\\0.735\\0.75\\0.77\\0.79\\0.8\\0.815\\0.824\\0.83\\0.838\\0.845\\0.852\\0.86\\0.866\\0.875\\0.89\\0.91\\0.93\\0.95\\0.963}
\pts{3}{0.3}{lmb}{0.43\\0.535\\0.58\\0.62\\0.65\\0.68\\0.7\\0.715\\0.725\\0.74\\0.76\\0.78\\0.8\\0.81\\0.82\\0.824\\0.83\\0.84\\0.85\\0.86\\0.87\\0.88\\0.885\\0.89\\0.9\\0.91\\0.92\\0.93\\0.94\\0.95\\0.96\\0.969\\0.75\\0.845\\0.875}
\pts{4}{0.3}{lma}{0.53\\0.617\\0.64\\0.67\\0.7\\0.72\\0.74\\0.76\\0.775\\0.79\\0.805\\0.82\\0.835\\0.85\\0.86\\0.868\\0.872\\0.878\\0.885\\0.892\\0.9\\0.91\\0.915\\0.92\\0.925\\0.93\\0.935\\0.94\\0.945\\0.95\\0.96\\0.968\\0.975}
\pts{5}{0.3}{nrm}{0.704\\0.72\\0.74\\0.8\\0.82\\0.84\\0.855\\0.865\\0.872\\0.878\\0.884\\0.89\\0.895\\0.9\\0.905\\0.908\\0.911\\0.914\\0.918\\0.922\\0.926\\0.93\\0.934\\0.938\\0.942\\0.946\\0.95\\0.954\\0.958\\0.962\\0.966\\0.97\\0.974\\0.977\\0.979}
\brk{1}{4}{2.5}{1.149}{1.124}{**}
\brk{1}{5}{3}{1.114}{1.089}{***}
\brk{2}{5}{3.5}{1.077}{1.052}{**}
\brk{3}{5}{4}{1.041}{1.016}{**}
\node[ptag] at (rel axis cs:0.748,1) {CALGB};
\end{axis}

\begin{axis}[myFive, myGini, at={(421pt,159pt)}, height=132pt, ymin=0.163, ymax=1.298,
  xlabel={P = \sci{6.82}{6}\quad FDR = \sci{5.46}{5}}, xlabel style={yshift=-22pt}]
\bx{1}{0.39}{0.637}{0.75}{0.835}{0.92}{her}
\bx{2}{0.603}{0.702}{0.773}{0.83}{0.949}{bas}
\bx{3}{0.382}{0.574}{0.716}{0.807}{0.915}{lmb}
\bx{4}{0.285}{0.39}{0.503}{0.665}{0.872}{lma}
\bx{5}{0.42}{0.552}{0.637}{0.722}{0.807}{nrm}
\pts{1}{0.3}{her}{0.277\\0.3\\0.33\\0.36\\0.39\\0.42\\0.45\\0.48\\0.5\\0.52\\0.54\\0.56\\0.58\\0.595\\0.61\\0.62\\0.63\\0.643\\0.65\\0.657\\0.664\\0.671\\0.678\\0.685\\0.692\\0.699\\0.706\\0.713\\0.72\\0.726\\0.732\\0.737\\0.742\\0.746\\0.749\\0.755\\0.76\\0.765\\0.77\\0.775\\0.78\\0.785\\0.79\\0.795\\0.8\\0.805\\0.81\\0.815\\0.82\\0.825\\0.828\\0.831\\0.834\\0.84\\0.845\\0.85\\0.855\\0.86\\0.865\\0.87\\0.875\\0.88\\0.885\\0.89\\0.895\\0.9\\0.905\\0.91\\0.915\\0.92}
\pts{2}{0.3}{bas}{0.32\\0.603\\0.64\\0.68\\0.7\\0.71\\0.73\\0.75\\0.76\\0.77\\0.775\\0.78\\0.79\\0.8\\0.81\\0.82\\0.83\\0.85\\0.87\\0.88\\0.9\\0.949}
\pts{3}{0.3}{lmb}{0.382\\0.4\\0.42\\0.44\\0.46\\0.49\\0.52\\0.55\\0.57\\0.59\\0.61\\0.63\\0.65\\0.67\\0.69\\0.7\\0.71\\0.716\\0.725\\0.735\\0.745\\0.755\\0.765\\0.775\\0.785\\0.795\\0.805\\0.815\\0.83\\0.845\\0.86\\0.875\\0.89\\0.9\\0.91\\0.915\\0.47\\0.8}
\pts{4}{0.3}{lma}{0.285\\0.29\\0.31\\0.34\\0.37\\0.39\\0.41\\0.43\\0.45\\0.47\\0.49\\0.503\\0.52\\0.54\\0.56\\0.58\\0.6\\0.63\\0.66\\0.68\\0.72\\0.77\\0.8\\0.85\\0.872}
\pts{5}{0.3}{nrm}{0.285\\0.42\\0.45\\0.52\\0.55\\0.57\\0.6\\0.62\\0.635\\0.64\\0.66\\0.68\\0.7\\0.72\\0.74\\0.76\\0.79\\0.807}
\brk{1}{4}{2.5}{1.233}{1.199}{**}
\brk{1}{5}{3}{1.184}{1.15}{*}
\brk{2}{4}{3}{1.133}{1.099}{**}
\brk{2}{5}{3.5}{1.085}{1.051}{*}
\brk{3}{4}{3.5}{1.034}{1}{*}
\node[ptag] at (rel axis cs:0.77,1) {NeoALTTO};
\end{axis}

\begin{axis}[myFive, myGini, at={(621pt,159pt)}, height=132pt, ymin=0.163, ymax=1.298,
  xlabel={P = \sci{1.88}{8}\quad FDR = \sci{2.08}{7}}, xlabel style={yshift=-22pt}]
\bx{1}{0.38}{0.628}{0.75}{0.844}{0.929}{her}
\bx{2}{0.29}{0.589}{0.674}{0.816}{0.909}{bas}
\bx{3}{0.197}{0.509}{0.651}{0.793}{0.949}{lmb}
\bx{4}{0.262}{0.461}{0.589}{0.73}{0.943}{lma}
\bx{5}{0.22}{0.447}{0.518}{0.603}{0.807}{nrm}
\pts{1}{0.3}{her}{0.38\\0.39\\0.41\\0.43\\0.45\\0.47\\0.49\\0.51\\0.53\\0.55\\0.565\\0.575\\0.585\\0.595\\0.6\\0.605\\0.61\\0.615\\0.62\\0.625\\0.634\\0.64\\0.646\\0.652\\0.658\\0.664\\0.67\\0.676\\0.682\\0.688\\0.694\\0.7\\0.706\\0.712\\0.718\\0.724\\0.73\\0.736\\0.742\\0.748\\0.755\\0.76\\0.765\\0.77\\0.775\\0.78\\0.785\\0.79\\0.795\\0.8\\0.805\\0.81\\0.815\\0.82\\0.825\\0.83\\0.834\\0.838\\0.841\\0.843\\0.848\\0.852\\0.856\\0.86\\0.864\\0.868\\0.872\\0.876\\0.88\\0.884\\0.888\\0.892\\0.896\\0.9\\0.905\\0.91\\0.915\\0.92\\0.925\\0.929}
\pts{2}{0.3}{bas}{0.29\\0.4\\0.45\\0.5\\0.55\\0.58\\0.6\\0.62\\0.64\\0.66\\0.67\\0.674\\0.69\\0.71\\0.73\\0.75\\0.77\\0.79\\0.81\\0.82\\0.84\\0.86\\0.88\\0.9\\0.909}
\pts{3}{0.3}{lmb}{0.197\\0.22\\0.26\\0.3\\0.34\\0.38\\0.42\\0.45\\0.48\\0.5\\0.52\\0.55\\0.58\\0.61\\0.63\\0.645\\0.651\\0.66\\0.68\\0.7\\0.72\\0.74\\0.76\\0.78\\0.79\\0.8\\0.82\\0.84\\0.86\\0.88\\0.9\\0.92\\0.94\\0.949\\0.4}
\pts{4}{0.3}{lma}{0.262\\0.29\\0.33\\0.36\\0.39\\0.41\\0.43\\0.45\\0.46\\0.48\\0.5\\0.52\\0.54\\0.56\\0.575\\0.585\\0.589\\0.6\\0.62\\0.64\\0.66\\0.68\\0.7\\0.72\\0.73\\0.75\\0.78\\0.81\\0.84\\0.87\\0.9\\0.92\\0.943}
\pts{5}{0.3}{nrm}{0.22\\0.26\\0.3\\0.34\\0.37\\0.4\\0.42\\0.435\\0.445\\0.455\\0.465\\0.475\\0.485\\0.495\\0.505\\0.512\\0.518\\0.525\\0.532\\0.54\\0.55\\0.56\\0.57\\0.58\\0.59\\0.6\\0.62\\0.65\\0.68\\0.71\\0.73\\0.75\\0.77\\0.79\\0.807}
\brk{1}{4}{2.5}{1.241}{1.207}{**}
\brk{1}{5}{3}{1.19}{1.156}{***}
\brk{2}{5}{3.5}{1.133}{1.099}{*}
\node[ptag] at (rel axis cs:0.748,1) {CALGB};
\end{axis}
\end{tikzpicture}
\end{document}
